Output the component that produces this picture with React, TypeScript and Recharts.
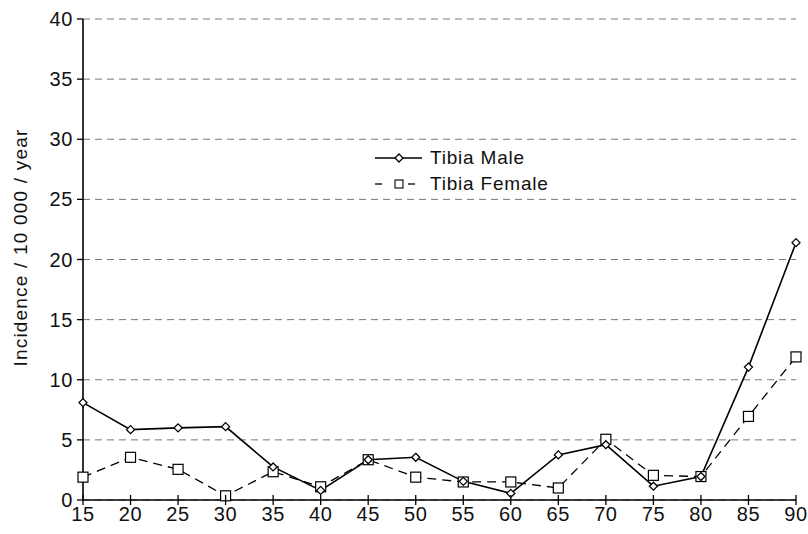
import React from 'react';
import { LineChart, Line, XAxis, YAxis, CartesianGrid } from 'recharts';

const ages = [15, 20, 25, 30, 35, 40, 45, 50, 55, 60, 65, 70, 75, 80, 85, 90];
const tibiaMale = [8.1, 5.85, 6.0, 6.1, 2.75, 0.8, 3.35, 3.55, 1.55, 0.55, 3.75, 4.6, 1.15, 1.95, 11.05, 21.4];
const tibiaFemale = [1.9, 3.55, 2.55, 0.35, 2.35, 1.1, 3.35, 1.9, 1.5, 1.5, 1.0, 5.05, 2.05, 1.95, 6.95, 11.9];
const yTicks = [0, 5, 10, 15, 20, 25, 30, 35, 40];

const data = ages.map((age, i) => ({ age, male: tibiaMale[i], female: tibiaFemale[i] }));

const FONT = '"Liberation Sans", Arial, sans-serif';

// small open diamond for the male series
const Diamond = (props: any) => {
  const { cx, cy } = props;
  if (cx == null || cy == null) return null;
  const r = 4;
  return (
    <path
      d={`M${cx},${cy - r} L${cx + r},${cy} L${cx},${cy + r} L${cx - r},${cy} Z`}
      fill="#fff"
      stroke="#000"
      strokeWidth={1.3}
    />
  );
};

// open square for the female series
const Square = (props: any) => {
  const { cx, cy } = props;
  if (cx == null || cy == null) return null;
  const s = 5;
  return <rect x={cx - s} y={cy - s} width={s * 2} height={s * 2} fill="#fff" stroke="#000" strokeWidth={1.2} />;
};

// x ticks cross the axis line, labels sit just below
const XTick = (props: any) => {
  const { x, y, payload } = props;
  return (
    <g>
      <line x1={x} y1={y - 5} x2={x} y2={y + 5} stroke="#000" strokeWidth={1.3} />
      <text x={x} y={y + 21} textAnchor="middle" fill="#111" fontSize={20} fontFamily={FONT} letterSpacing={0.6}>
        {payload.value}
      </text>
    </g>
  );
};

// rotated axis title, centred at x≈20
const YLabel = (props: any) => {
  const vb = props.viewBox || {};
  const cy = (vb.y ?? 19) + (vb.height ?? 481) / 2 - 12;
  return (
    <text
      x={20}
      y={cy}
      transform={`rotate(-90, 20, ${cy})`}
      textAnchor="middle"
      dominantBaseline="central"
      fill="#111"
      fontSize={19}
      fontFamily={FONT}
      letterSpacing={1.2}
    >
      Incidence / 10 000 / year
    </text>
  );
};

const legendText = { fontFamily: FONT, fontSize: 19, letterSpacing: 0.8, color: '#111' };

const LegendBox = () => (
  <div style={{ position: 'absolute', left: 373, top: 145, pointerEvents: 'none' }}>
    <div style={{ display: 'flex', alignItems: 'center', height: 25 }}>
      <svg width={52} height={14} style={{ marginRight: 5 }}>
        <line x1={2} y1={7} x2={49} y2={7} stroke="#000" strokeWidth={1.4} />
        <Diamond cx={26} cy={7} />
      </svg>
      <span style={legendText}>Tibia Male</span>
    </div>
    <div style={{ display: 'flex', alignItems: 'center', height: 27 }}>
      <svg width={52} height={14} style={{ marginRight: 5 }}>
        <line x1={2} y1={7} x2={9} y2={7} stroke="#000" strokeWidth={1.3} />
        <rect x={22} y={3} width={8} height={8} fill="#fff" stroke="#000" strokeWidth={1.1} />
        <line x1={35} y1={7} x2={42} y2={7} stroke="#000" strokeWidth={1.3} />
      </svg>
      <span style={legendText}>Tibia Female</span>
    </div>
  </div>
);

export default function App() {
  return (
    <div style={{ position: 'absolute', left: 0, top: 0, width: 808, height: 534, background: '#fff' }}>
      <LineChart width={808} height={534} data={data} margin={{ top: 19, right: 12, left: 0, bottom: 0 }}>
        <CartesianGrid vertical={false} stroke="#777" strokeDasharray="7 5" />
        <XAxis
          dataKey="age"
          type="number"
          domain={[15, 90]}
          ticks={ages}
          height={34}
          axisLine={{ stroke: '#000', strokeWidth: 1.6 }}
          tickLine={false}
          tickSize={0}
          tickMargin={0}
          tick={<XTick />}
          interval={0}
        />
        <YAxis
          type="number"
          domain={[0, 40]}
          ticks={yTicks}
          width={83}
          axisLine={{ stroke: '#000', strokeWidth: 1.6 }}
          tickLine={{ stroke: '#000', strokeWidth: 1.3 }}
          tickSize={6}
          tickMargin={4}
          tick={{ fill: '#111', fontSize: 20, fontFamily: FONT, letterSpacing: 0.6 }}
          label={<YLabel />}
        />
        <Line
          dataKey="female"
          stroke="#000"
          strokeWidth={1.3}
          strokeDasharray="9 6"
          dot={<Square />}
          isAnimationActive={false}
        />
        <Line
          dataKey="male"
          stroke="#000"
          strokeWidth={1.6}
          dot={<Diamond />}
          isAnimationActive={false}
        />
      </LineChart>
      <LegendBox />
    </div>
  );
}
